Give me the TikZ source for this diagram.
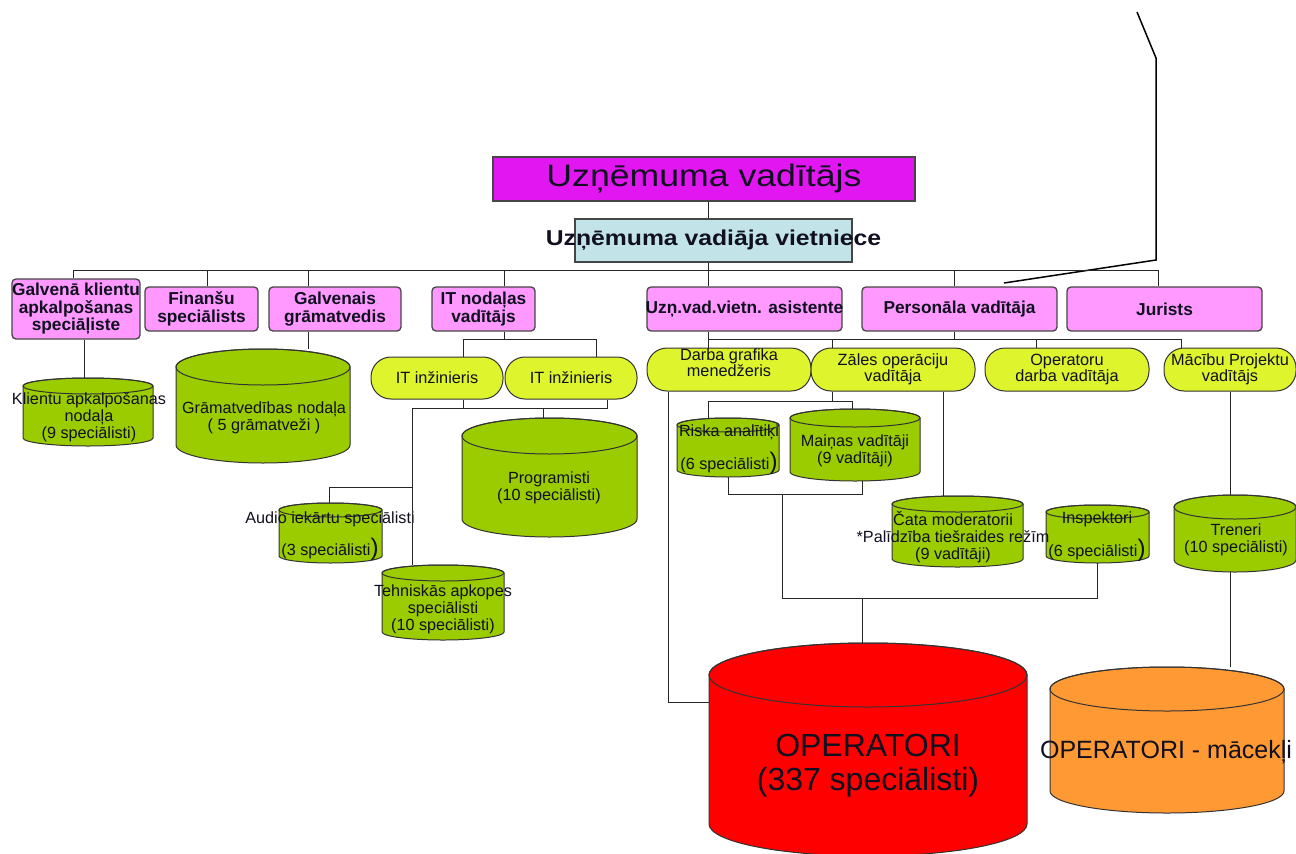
\documentclass[tikz,border=0pt]{standalone}
\usepackage{fontspec}
\setmainfont{Liberation Sans}
\newfontfamily\widefont{Liberation Sans}[FakeStretch=1.15]
\definecolor{magbox}{RGB}{226,22,240}
\definecolor{pinkbox}{RGB}{255,153,255}
\definecolor{bluebox}{RGB}{194,228,232}
\definecolor{stadfill}{RGB}{222,244,44}
\definecolor{cylfill}{RGB}{154,204,0}
\definecolor{redfill}{RGB}{255,0,0}
\definecolor{orangefill}{RGB}{255,153,51}
\definecolor{txt}{RGB}{16,16,32}
\definecolor{edgecol}{RGB}{70,70,70}
\newcommand\bigparen{{\fontsize{24}{24}\selectfont)}}
\newcommand\mycyl[7]{%
  \pgfmathsetmacro\cylcx{(#2+#3)/2}%
  \pgfmathsetmacro\cylrx{(#3-#2)/2}%
  \pgfmathsetmacro\cylta{#4+#6}%
  \pgfmathsetmacro\cylba{#5-#6}%
  \pgfmathsetmacro\cylcy{(#4+#5)/2}%
  \pgfmathsetmacro\cylhh{#5-#4}%
  \pgfmathsetmacro\cylww{#3-#2}%
  \filldraw[cylline, fill=#7] (#2,\cylta) -- (#2,\cylba)
     arc[start angle=180, end angle=360, x radius=\cylrx pt, y radius=#6pt]
     -- (#3,\cylta)
     arc[start angle=0, end angle=180, x radius=\cylrx pt, y radius=#6pt] -- cycle;
  \draw[cylline] (\cylcx,\cylta) ellipse[x radius=\cylrx pt, y radius=#6pt];
  \node[inner sep=0pt, minimum width=\cylww pt, minimum height=\cylhh pt] (#1) at (\cylcx,\cylcy) {};
}
\tikzset{
 conn/.style={draw=black!85, line width=1pt},
 pinkbx/.style={draw=edgecol, line width=1.3pt, fill=pinkbox, rounded corners=4pt, inner sep=0pt, align=center, font=\bfseries\fontsize{17.3}{17.5}\selectfont, text=txt},
 stad/.style={draw=black!80, line width=1pt, fill=stadfill, rounded corners=20pt, inner sep=0pt, align=center, font=\fontsize{16.3}{15.5}\selectfont, text=txt},
 stadtext/.style={inner sep=0pt, align=center, font=\fontsize{16.3}{15.5}\selectfont, text=txt},
 cylline/.style={draw=black!80, line width=1pt},
 cyltext/.style={align=center, inner sep=0pt, font=\fontsize{16.2}{17}\selectfont, text=txt},
}
\begin{document}
\begin{tikzpicture}[x=1pt, y=-1pt]
\useasboundingbox (0,0) rectangle (1296,854);
\fill[white] (0,0) rectangle (1296,854);

% free line at top right
\coordinate (f1) at (1137,12);
\coordinate (f2) at (1156,58);
\coordinate (f3) at (1156,260);
\coordinate (f4) at (1004,283);

% top boxes
\node[draw=edgecol, line width=1.2pt, fill=magbox, minimum width=422pt, minimum height=44pt, inner sep=0pt, font=\widefont\fontsize{31}{31}\selectfont, text=txt] (ceo) at (704,179) {Uzņēmuma vadītājs};
\node[draw=edgecol, line width=1.2pt, fill=bluebox, minimum width=277pt, minimum height=43pt, inner sep=0pt, font=\widefont\bfseries\fontsize{21.5}{21.5}\selectfont, text=txt] (dep) at (713.5,240.5) {\makebox[0pt]{Uzņēmuma vadiāja vietniece}};

% pink boxes
\node[pinkbx, minimum width=128pt, minimum height=60pt] (gk) at (76,309) {Galvenā klientu\\apkalpošanas\\speciāļiste};
\node[pinkbx, minimum width=113pt, minimum height=44pt] (fin) at (201.5,309) {Finanšu\\speciālists};
\node[pinkbx, minimum width=132pt, minimum height=44pt] (gg) at (335,309) {Galvenais\\grāmatvedis};
\node[pinkbx, minimum width=103pt, minimum height=44pt] (itn) at (483.5,309) {IT nodaļas\\vadītājs};
\node[pinkbx, minimum width=195pt, minimum height=44pt] (asis) at (744.5,309) {\makebox[0pt]{Uzņ.vad.vietn. asistente}};
\node[pinkbx, minimum width=195pt, minimum height=44pt] (pers) at (959.5,309) {Personāla vadītāja};
\node[pinkbx, minimum width=195pt, minimum height=44pt] (jur) at (1164.5,309) {Jurists};

% stadiums
\node[stad, minimum width=132pt, minimum height=42pt] (it1) at (437,378) {IT inžinieris};
\node[stad, minimum width=132pt, minimum height=42pt] (it2) at (571,378) {IT inžinieris};
\node[stad, minimum width=164pt, minimum height=43pt] (darba) at (729,369.5) {};
\node[stadtext] (darbat) at (729,362.5) {Darba grafika\\menedžeris};
\node[stad, minimum width=164pt, minimum height=43pt] (zales) at (893,369.5) {Zāles operāciju\\vadītāja};
\node[stad, minimum width=164pt, minimum height=43pt] (oper) at (1067,369.5) {Operatoru\\darba vadītāja};
\node[stad, minimum width=132pt, minimum height=43pt] (macibu) at (1230,369.5) {\makebox[0pt]{Mācību Projektu}\\vadītājs};

% cylinders
\mycyl{klc}{23}{153}{378}{446}{8}{cylfill}
\mycyl{gram}{176}{350}{349}{463}{18}{cylfill}
\mycyl{prog}{462}{637}{418}{537}{18}{cylfill}
\mycyl{audio}{279}{382}{503}{563}{7}{cylfill}
\mycyl{teh}{382}{504}{565}{640}{8}{cylfill}
\mycyl{riska}{677}{779}{418}{477}{7}{cylfill}
\mycyl{mainas}{790}{920}{409}{481}{9}{cylfill}
\mycyl{cata}{892}{1023}{496}{567}{8}{cylfill}
\mycyl{insp}{1046}{1149}{505}{563}{7}{cylfill}
\mycyl{tren}{1174}{1296}{495}{572}{12}{cylfill}
\mycyl{red}{709}{1027}{643}{856}{32}{redfill}
\mycyl{orng}{1050}{1284}{667}{813}{22}{orangefill}

% cylinder texts
\node[cyltext] (klct) at (89,417) {Klientu apkalpošanas\\nodaļa\\(9 speciālisti)};
\node[cyltext] (gramt) at (264,418) {Grāmatvedības nodaļa\\( 5 grāmatveži )};
\node[cyltext] (progt) at (549,487.5) {Programisti\\(10 speciālisti)};
\node[cyltext] (audiot) at (330,536) {Audio iekārtu speciālisti\\[11pt](3 speciālisti\bigparen};
\node[cyltext] (teht) at (443,609) {Tehniskās apkopes\\speciālisti\\(10 speciālisti)};
\node[cyltext] (riskat) at (729,450) {Riska analītiķi\\[11pt](6 speciālisti\bigparen};
\node[cyltext] (mainast) at (855,451) {Maiņas vadītāji\\(9 vadītāji)};
\node[cyltext] (catat) at (953,537) {Čata moderatorii\\*Palīdzība tiešraides režīm\\(9 vadītāji)};
\node[cyltext] (inspt) at (1097,536.5) {Inspektori\\[12pt](6 speciālisti\bigparen};
\node[cyltext] (trent) at (1236,539.5) {Treneri\\(10 speciālisti)};
\node[cyltext, font=\fontsize{32}{34}\selectfont] (redt) at (868,766) {OPERATORI\\(337 speciālisti)};
\node[cyltext, font=\fontsize{25}{25}\selectfont] (orngt) at (1166,752) {OPERATORI - mācekļi};

% junction coordinates
\coordinate (busL) at (73,270);
\coordinate (busR) at (1158,270);
\coordinate (trunk) at (708,270);
\coordinate (itj) at (504,339);
\coordinate (itb) at (543,408);
\coordinate (audj) at (412,487);
\coordinate (pj) at (954,339);
\coordinate (zj) at (832,401);
\coordinate (rmj) at (782,494);
\coordinate (opj) at (862,598);

% connectors
\draw[line width=1.5pt] (f1) -- (f2) -- (f3) -- (f4);
\draw[conn] (busL) -- (busR);
\draw[conn] (trunk |- ceo.south) -- (trunk |- dep.north);
\draw[conn] (trunk |- dep.south) -- (trunk |- asis.north);
\draw[conn] (busL) -- (busL |- gk.north);
\draw[conn] ([xshift=5.5pt]fin.north) |- (busL);
\draw[conn] ([xshift=-27pt]gg.north) |- (busL);
\draw[conn] ([xshift=20.5pt]itn.north) |- (busL);
\draw[conn] ([xshift=-5.5pt]pers.north) |- (busR);
\draw[conn] (busR) -- (busR |- jur.north);

\draw[conn] ([xshift=8pt]gk.south) -- ([xshift=-4pt]klc.north);
\draw[conn] ([xshift=-27pt]gg.south) -- ([xshift=45pt]gram.north);

\draw[conn] ([xshift=20.5pt]itn.south) -- (itj);
\draw[conn] ([xshift=26pt]it1.north) |- (itj);
\draw[conn] ([xshift=25pt]it2.north) |- (itj);
\draw[conn] ([xshift=26pt]it1.south) |- (itb);
\draw[conn] ([xshift=36pt]it2.south) |- (itb);
\draw[conn] ([xshift=-6.5pt]prog.north) -- (itb);
\draw[conn] ([xshift=-31pt]teh.north) |- (itb);
\draw[conn] ([xshift=-1.5pt]audio.north) |- (audj);

\draw[conn] ([xshift=-36.5pt]asis.south) -- ([xshift=-21pt]darba.north);
\draw[conn] ([xshift=-5.5pt]pers.south) -- (pj);
\draw[conn] (trunk |- pj) -- (pj);
\draw[conn] ([xshift=-61pt]zales.north) |- (pj);
\draw[conn] ([xshift=-31pt]oper.north) |- (pj);
\draw[conn] ([xshift=-49pt]macibu.north) |- (pj);

\draw[conn] ([xshift=-61pt]zales.south) -- (zj);
\draw[conn] ([xshift=-20pt]riska.north) |- (zj);
\draw[conn] ([xshift=-3pt]mainas.north) |- (zj);
\draw[conn] ([xshift=50pt]zales.south) -- ([xshift=-14.5pt]cata.north);

\draw[conn] (riska.south) |- (rmj);
\draw[conn] ([xshift=7pt]mainas.south) |- (rmj);
\draw[conn] (rmj) |- (opj);
\draw[conn] (insp.south) |- (opj);
\draw[conn] ([xshift=-6pt]red.north) -- (opj);
\draw[conn] ([xshift=-61pt]darba.south) |- ([yshift=47.5pt]red.west);

\draw[conn] (macibu.south) -- ([xshift=-5pt]tren.north);
\draw[conn] ([xshift=-5pt]tren.south) -- ([xshift=63pt]orng.north);
\end{tikzpicture}
\end{document}
